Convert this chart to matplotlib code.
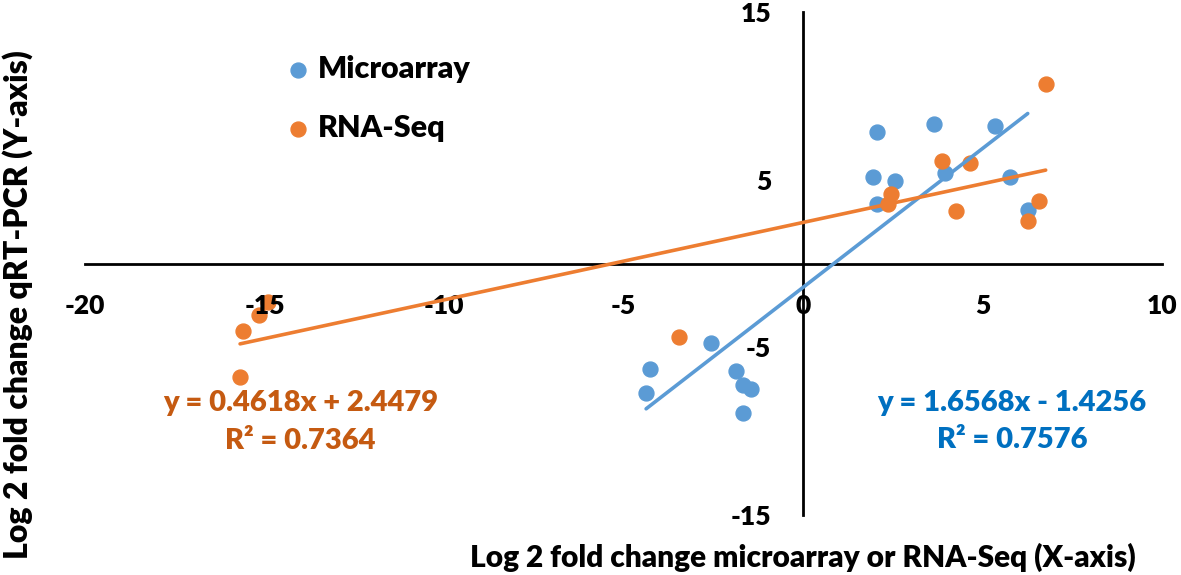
import matplotlib
matplotlib.use("Agg")
from matplotlib import pyplot as plt
import numpy as np

plt.rcParams['font.family'] = ['Lato', 'DejaVu Sans']
plt.rcParams['font.weight'] = 'heavy'
plt.rcParams['axes.unicode_minus'] = False

# Microarray points
micro_x = [-2.56, -4.26, -4.37, -1.87, -1.67, -1.45, -1.67,
           2.05, 3.66, 5.36, 1.95, 2.56, 3.96, 5.77, 2.05, 6.26]
micro_y = [-4.74, -6.29, -7.72, -6.41, -7.25, -7.50, -8.90,
           7.84, 8.32, 8.20, 5.16, 4.92, 5.40, 5.16, 3.55, 3.19]

# RNA-Seq points
rna_x = [-14.9, -15.15, -15.6, -15.68, -3.46,
         6.76, 3.86, 4.66, 2.45, 2.36, 4.25, 6.56, 6.26]
rna_y = [-2.3, -3.07, -4.0, -6.75, -4.38,
         10.7, 6.1, 5.98, 4.14, 3.55, 3.13, 3.73, 2.53]

# trendline coefficients (slope, intercept) and R^2
micro_fit = (1.6568, -1.4256)
micro_r2 = 0.7576
rna_fit = (0.4618, 2.4479)
rna_r2 = 0.7364

blue = "#5B9BD5"
orange = "#ED7D31"

fig = plt.figure(figsize=(11.81, 5.75), dpi=100)
ax = fig.add_axes([85/1181, 1-515/575, 1077/1181, 503/575])

# points under the tick labels (like the original), trendlines on top
ax.scatter(micro_x, micro_y, s=115, color=blue, label="Microarray", zorder=1)
ax.scatter(rna_x, rna_y, s=115, color=orange, label="RNA-Seq", zorder=1)

for xs, fit, c in [(micro_x, micro_fit, blue), (rna_x, rna_fit, orange)]:
    xx = np.array([min(xs), max(xs)])
    ax.plot(xx, np.polyval(fit, xx), color=c, lw=2.6, solid_capstyle='round', zorder=4)

ax.set_xlim(-20, 10)
ax.set_ylim(-15, 15)
ax.set_xticks(range(-20, 11, 5))
ax.set_yticks([-15, -5, 5, 15])

for side in ['top', 'right']:
    ax.spines[side].set_visible(False)
for side in ['left', 'bottom']:
    ax.spines[side].set_position(('data', 0))
    ax.spines[side].set_linewidth(2)
    ax.spines[side].set_zorder(2)

ax.tick_params(axis='x', length=0, pad=22, labelsize=19)
ax.tick_params(axis='y', length=0, pad=23, labelsize=19)

fig.text(18/1181, 1-305/575, "Log 2 fold change qRT-PCR (Y-axis)", rotation=90,
         ha='center', va='center', fontsize=23)
fig.text(803/1181, 1-557/575, "Log 2 fold change microarray or RNA-Seq (X-axis)",
         ha='center', va='center', fontsize=21.5)

ax.text(-14.0, -8.32, "y = %.4fx + %.4f" % rna_fit, color="#C55A11",
        ha='center', va='center', fontsize=21)
ax.text(-14.0, -10.58, "R² = %.4f" % rna_r2, color="#C55A11",
        ha='center', va='center', fontsize=21)
ax.text(5.82, -8.32, "y = %.4fx - %.4f" % (micro_fit[0], -micro_fit[1]), color="#0070C0",
        ha='center', va='center', fontsize=21)
ax.text(5.82, -10.5, "R² = %.4f" % micro_r2, color="#0070C0",
        ha='center', va='center', fontsize=21)

ax.legend(loc='upper left', bbox_to_anchor=(283/1181, 1-55/575), bbox_transform=fig.transFigure,
          frameon=False, fontsize=22, handletextpad=0.15, labelspacing=1.0,
          handlelength=1.0, borderpad=0, borderaxespad=0)

fig.savefig("out.png", dpi=100)
